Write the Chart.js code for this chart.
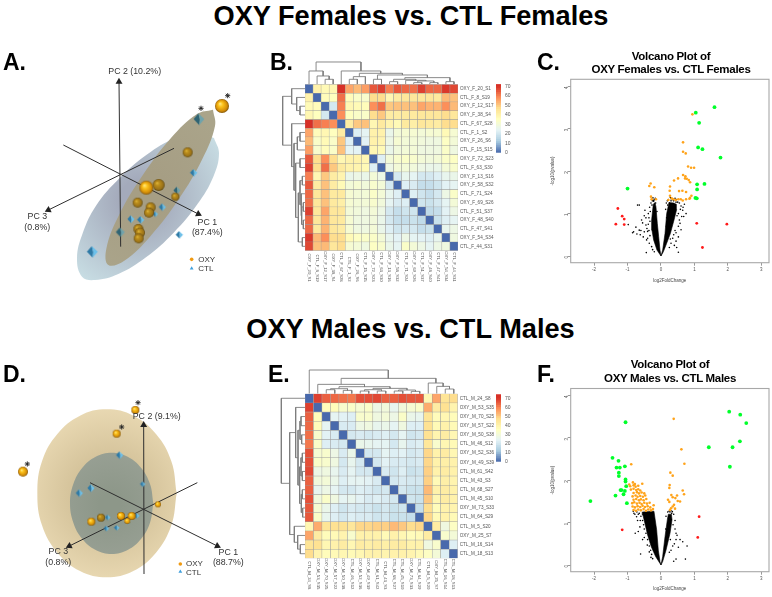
<!DOCTYPE html>
<html>
<head>
<meta charset="utf-8">
<title>OXY vs. CTL</title>
<script src="https://cdn.jsdelivr.net/npm/chart.js@4"></script>
<style>
html, body { margin: 0; padding: 0; background: #fff; }
#page { position: relative; width: 772px; height: 597px; overflow: hidden; font-family: "Liberation Sans", Arial, sans-serif; }
#page canvas { position: absolute; filter: blur(0.35px); }
#page div { position: absolute; white-space: nowrap; line-height: 1; color: #000; }
</style>
</head>
<body>
<div id="page"></div>
<script>
// heatmap labels, same order on both axes
var samplesF = ["OXY_F_20_S1", "CTL_F_8_S19", "OXY_F_12_S17", "OXY_F_38_S4", "CTL_F_67_S28", "CTL_F_1_S2", "OXY_F_26_S6", "CTL_F_15_S15", "OXY_F_72_S23", "CTL_F_63_S30", "OXY_F_13_S16", "OXY_F_58_S32", "CTL_F_71_S24", "OXY_F_69_S26", "CTL_F_51_S37", "OXY_F_48_S40", "CTL_F_47_S41", "OXY_F_54_S34", "CTL_F_44_S31"];
var samplesM = ["CTL_M_24_S8", "OXY_M_53_S35", "OXY_M_70_S25", "OXY_M_57_S22", "OXY_M_50_S38", "CTL_M_46_S12", "OXY_M_52_S36", "OXY_M_49_S39", "CTL_M_61_S42", "CTL_M_43_S3", "CTL_M_68_S27", "CTL_M_45_S10", "OXY_M_73_S33", "CTL_M_64_S29", "CTL_M_5_S20", "OXY_M_25_S7", "CTL_M_16_S14", "CTL_M_18_S13"];

// sample distances, upper triangle, each row starts on the diagonal
var distF = [
    [0, 40, 37, 38, 70, 55, 52, 56, 65, 68, 60, 65, 63, 62, 68, 63, 63, 69, 67],
    [0, 36, 35, 62, 36, 33, 32, 47, 47, 38, 42, 44, 44, 44, 44, 43, 52, 51],
    [0, 20, 60, 38, 37, 36, 58, 62, 50, 51, 51, 51, 55, 53, 53, 58, 52],
    [0, 58, 35, 33, 33, 47, 50, 42, 42, 43, 43, 44, 44, 44, 47, 44],
    [0, 42, 50, 51, 38, 43, 39, 37, 43, 41, 44, 43, 42, 47, 47],
    [0, 22, 24, 40, 40, 26, 30, 31, 31, 30, 31, 31, 37, 31],
    [0, 23, 40, 39, 27, 31, 30, 30, 29, 28, 28, 34, 30],
    [0, 38, 37, 26, 29, 30, 30, 28, 28, 28, 33, 28],
    [0, 22, 30, 32, 33, 32, 30, 29, 30, 33, 34],
    [0, 27, 30, 30, 29, 27, 26, 26, 30, 32],
    [0, 20, 25, 24, 20, 20, 22, 25, 26],
    [0, 22, 21, 17, 17, 19, 23, 24],
    [0, 22, 19, 17, 20, 27, 33],
    [0, 19, 18, 20, 24, 30],
    [0, 16, 17, 23, 27],
    [0, 18, 22, 24],
    [0, 25, 27],
    [0, 28],
    [0]
];
var distM = [
    [0, 68, 64, 63, 62, 61, 66, 66, 67, 64, 64, 66, 65, 65, 38, 55, 45, 47],
    [0, 36, 36, 32, 33, 31, 33, 27, 29, 25, 29, 31, 33, 54, 42, 46, 39],
    [0, 24, 23, 22, 32, 32, 28, 30, 27, 33, 26, 25, 45, 36, 38, 36],
    [0, 21, 21, 27, 28, 25, 26, 24, 28, 22, 22, 46, 37, 40, 37],
    [0, 20, 21, 20, 21, 22, 20, 24, 19, 20, 46, 39, 42, 38],
    [0, 26, 25, 24, 24, 20, 25, 21, 22, 44, 32, 38, 37],
    [0, 20, 20, 24, 22, 23, 20, 21, 48, 40, 42, 38],
    [0, 20, 23, 21, 21, 20, 21, 48, 40, 41, 40],
    [0, 21, 19, 22, 18, 19, 49, 40, 42, 40],
    [0, 20, 21, 20, 20, 49, 37, 41, 39],
    [0, 20, 18, 18, 52, 40, 42, 40],
    [0, 19, 18, 50, 38, 42, 40],
    [0, 17, 47, 36, 40, 39],
    [0, 48, 37, 40, 37],
    [0, 42, 28, 34],
    [0, 32, 30],
    [0, 22],
    [0]
];

// dendrogram merges: left position, left height, right position, right height, merge height
var mergesF = [
    [2, 0, 3, 0, 15], [1, 0, 2.5, 15, 25], [0, 0, 1.75, 25, 40],
    [5, 0, 6, 0, 15], [5.5, 15, 7, 0, 23], [8, 0, 9, 0, 15],
    [10, 0, 11, 0, 8], [13, 0, 14, 0, 5], [15, 0, 16, 0, 5],
    [13.5, 5, 15.5, 5, 10], [12, 0, 14.5, 10, 12], [10.5, 8, 13.25, 12, 15],
    [17, 0, 18, 0, 8], [11.9, 15, 17.5, 8, 20], [8.5, 15, 14.7, 20, 28],
    [6.25, 23, 11.6, 28, 33], [4, 0, 8.9, 33, 40], [0.875, 40, 6.45, 40, 67]
];
var mergesM = [
    [2, 0, 3, 0, 12], [4, 0, 5, 0, 10], [2.5, 12, 4.5, 10, 15],
    [6, 0, 7, 0, 8], [8, 0, 9, 0, 8], [10, 0, 11, 0, 8], [12, 0, 13, 0, 7],
    [6.5, 8, 8.5, 8, 12], [10.5, 8, 12.5, 7, 11], [7.5, 12, 11.5, 11, 16],
    [3.5, 15, 9.5, 16, 21], [1, 0, 6.5, 21, 28],
    [16, 0, 17, 0, 14], [15, 0, 16.5, 14, 22], [14, 0, 15.75, 22, 32],
    [3.75, 28, 14.9, 32, 46], [0, 0, 9.3, 46, 71]
];

var legendLevels = [1, 3, 5, 7, 9, 11, 13, 15, 17, 19, 21, 23, 25, 27, 29, 31, 33, 35, 37, 39, 41, 43, 45, 47, 49, 51, 53, 55, 57, 59, 61, 63, 65, 67, 69, 71, 73];
var legendTicks = [0, 10, 20, 30, 40, 50, 60, 70];
var foldTicks = [-2, -1, 0, 1, 2, 3];
var pvalueTicks = [0, 1, 2, 3, 4];

// volcano plots: [log2FoldChange, -log10(pvalue)]
var greenF = [[1.6, 3.51], [1.04, 3.38], [1.14, 3.14], [1.11, 2.56], [1.24, 2.52], [1.78, 2.32], [-1.0, 1.59], [1.08, 1.69], [1.3, 1.7], [1.08, 1.57], [1.03, 1.37], [1.07, 1.36]];
var redF = [[-1.29, 1.12], [-1.16, 0.94], [-1.1, 0.87], [-1.35, 0.75], [-1.1, 0.74], [1.07, 0.77], [1.97, 0.75], [1.24, 0.2]];
var orangeF = [[0.94, 3.34], [0.66, 2.68], [0.66, 2.46], [0.74, 2.42], [0.81, 2.11], [0.9, 2.08], [0.99, 2.08], [0.66, 1.91], [0.73, 1.88], [0.72, 1.83], [0.77, 1.82], [0.83, 1.79], [0.87, 1.74], [0.51, 1.83], [0.39, 1.78], [0.27, 1.64], [0.26, 1.54], [0.54, 1.53], [0.64, 1.54], [0.75, 1.51], [-0.31, 1.71], [-0.35, 1.65], [-0.2, 1.62], [-0.3, 1.4], [-0.28, 1.34], [-0.15, 1.34], [0.32, 1.36], [0.37, 1.34], [0.22, 1.32], [0.44, 1.32], [0.52, 1.34], [0.59, 1.34], [0.65, 1.31], [0.75, 1.34], [0.85, 1.35], [0.91, 1.42], [0.87, 1.37], [0.27, 1.42]];
var coreLeftF = [[0, 0], [-0.12, 0.14], [-0.22, 0.38], [-0.27, 0.61], [-0.28, 0.85], [-0.25, 1.08], [-0.23, 1.22], [-0.18, 1.26], [-0.15, 1.16], [-0.11, 0.77], [-0.07, 0.46], [-0.03, 0.14], [0, 0]];
var coreRightF = [[0, 0], [0.07, 0.1], [0.17, 0.3], [0.28, 0.53], [0.39, 0.85], [0.47, 1.1], [0.46, 1.22], [0.38, 1.25], [0.24, 1.26], [0.17, 1.0], [0.12, 0.53], [0.05, 0.14], [0, 0]];
var blackF = [[-0.98, 0.74], [-0.44, 0.08], [-0.85, 0.55], [-0.82, 0.57], [-0.75, 0.68], [-0.65, 1.2], [-0.7, 1.2], [-0.5, 0.95], [-0.55, 0.78], [-0.6, 0.6], [-0.45, 0.73], [-0.5, 0.57], [-0.4, 0.42], [-0.35, 0.3], [-0.58, 0.85], [-0.48, 1.08], [-0.38, 1.0], [-0.65, 0.61], [-0.53, 0.45], [-0.43, 0.38], [-0.28, 0.22], [-0.36, 0.9], [-0.34, 1.15], [-0.3, 1.25], [-0.27, 1.2], [-0.38, 0.75], [-0.36, 0.6], [-0.33, 0.48], [-0.4, 0.58], [-0.72, 0.52], [-0.62, 0.5], [-0.25, 0.15], [-0.2, 0.1], [-0.33, 0.82], [-0.32, 1.05], [-0.45, 0.9], [-0.42, 0.65], [-0.22, 1.29], [-0.16, 1.25], [-0.12, 1.05], [-0.26, 1.3], [-0.2, 1.33], [-0.24, 1.37], [-0.17, 1.36], [-0.22, 1.31],
    [0.52, 0.09], [0.47, 0.2], [0.4, 0.25], [0.45, 0.35], [0.52, 0.45], [0.6, 0.62], [0.57, 0.77], [0.68, 0.93], [0.75, 1.0], [0.65, 1.08], [0.62, 0.93], [0.52, 0.7], [0.45, 0.55], [0.35, 0.42], [0.3, 0.3], [0.25, 0.2], [0.6, 1.18], [0.55, 1.25], [0.7, 1.22], [0.45, 1.27], [0.38, 1.3], [0.3, 1.3], [0.25, 1.25], [0.2, 1.2], [0.17, 0.9], [0.16, 0.7], [0.52, 1.0], [0.42, 0.6], [0.38, 0.5], [0.28, 0.4], [0.55, 0.85], [0.58, 1.1], [0.48, 0.95], [0.14, 1.1], [0.66, 1.15], [0.12, 0.3], [0.09, 0.2], [0.22, 1.33], [0.3, 1.35], [0.35, 1.33], [0.42, 1.36], [0.47, 1.33], [0.5, 1.27], [0.28, 1.38], [0.16, 1.25], [0.19, 1.3]];

var greenM = [[2.04, 3.62], [2.37, 3.55], [2.55, 3.35], [2.36, 2.92], [2.14, 2.78], [1.43, 2.78], [2.06, 2.32], [-1.06, 3.37], [-1.45, 2.53], [-1.27, 2.46], [-1.33, 2.3], [-1.23, 2.3], [-1.08, 2.33], [-1.26, 2.18], [-1.26, 2.1], [-1.06, 2.02], [-1.06, 1.97], [-1.04, 1.86], [-1.21, 1.77], [-1.18, 1.77], [-1.08, 1.75], [-1.12, 1.67], [-1.36, 1.64], [-1.02, 1.46], [-2.11, 1.51]];
var redM = [[1.14, 1.14], [1.1, 0.65], [-1.16, 0.83]];
var orangeM = [[0.38, 3.45], [0.61, 2.73], [0.7, 2.39], [-0.89, 2.38], [0.28, 2.18], [0.35, 2.11], [0.26, 1.89], [0.25, 1.82], [0.65, 1.76], [0.69, 1.67], [0.31, 1.65], [0.48, 1.64], [0.35, 1.6], [0.43, 1.58], [0.21, 1.54], [0.25, 1.49], [0.57, 1.5], [0.5, 1.51], [0.39, 1.42], [0.35, 1.38], [0.3, 1.34], [0.27, 1.3], [0.42, 1.33],
    [-0.82, 1.3], [-0.75, 1.28], [-0.68, 1.31], [-0.6, 1.29], [-0.52, 1.32], [-0.45, 1.28], [-0.38, 1.31], [-0.3, 1.29], [-0.24, 1.32], [-0.85, 1.38], [-0.78, 1.36], [-0.7, 1.39], [-0.62, 1.37], [-0.55, 1.4], [-0.48, 1.37], [-0.4, 1.39], [-0.32, 1.36], [-0.22, 1.41], [-0.86, 1.46], [-0.8, 1.48], [-0.72, 1.45], [-0.64, 1.47], [-0.58, 1.44], [-0.5, 1.47], [-0.42, 1.45], [-0.34, 1.47], [-0.82, 1.54], [-0.74, 1.56], [-0.66, 1.53], [-0.6, 1.55], [-0.52, 1.53], [-0.44, 1.56], [-0.85, 1.62], [-0.76, 1.64], [-0.7, 1.61], [-0.62, 1.63], [-0.54, 1.61], [-0.47, 1.64], [-0.82, 1.7], [-0.72, 1.72], [-0.66, 1.69], [-0.58, 1.71], [-0.5, 1.69], [-0.9, 1.78], [-0.82, 1.8], [-0.74, 1.77], [-0.68, 1.79], [-0.62, 1.76], [-0.92, 1.86], [-0.82, 1.88], [-0.76, 1.85], [-0.68, 1.87], [-0.56, 1.92], [-0.95, 1.9], [-0.84, 1.95], [-0.78, 1.91]];
var coreLeftM = [[0, 0], [-0.16, 0.2], [-0.29, 0.43], [-0.4, 0.71], [-0.48, 0.98], [-0.54, 1.18], [-0.56, 1.25], [-0.21, 1.27], [-0.13, 0.83], [-0.08, 0.35], [-0.03, 0.08], [0, 0]];
var coreRightM = [[0, 0], [0.05, 0.08], [0.15, 0.35], [0.27, 0.75], [0.33, 1.07], [0.31, 1.2], [0.22, 1.2], [0.19, 1.07], [0.12, 0.67], [0.05, 0.2], [0, 0]];
var blackM = [[-0.61, 0.26], [-0.41, 0.47], [-0.35, 0.31], [-0.31, 0.35], [-0.77, 0.75], [-0.68, 0.79], [-0.63, 0.9], [-0.73, 1.14], [-0.81, 1.22], [-0.83, 1.27], [-0.65, 1.22], [-0.6, 1.15], [-0.55, 1.05], [-0.5, 0.85], [-0.45, 0.75], [-0.4, 0.6], [-0.55, 0.6], [-0.5, 0.65], [-0.35, 0.45], [-0.28, 0.25], [-0.7, 1.05], [-0.62, 1.05], [-0.78, 1.2], [-0.72, 1.25], [-0.68, 1.2], [-0.52, 0.95], [-0.42, 0.9], [-0.3, 0.18], [-0.25, 0.15],
    [0.38, 0.09], [0.45, 0.14], [0.73, 0.14], [0.52, 0.42], [0.65, 0.55], [0.78, 0.45], [0.45, 0.6], [0.57, 0.6], [0.4, 0.5], [0.35, 0.45], [0.3, 0.35], [0.25, 0.3], [0.42, 0.85], [0.45, 0.75], [0.42, 1.05], [0.38, 1.2], [0.32, 1.22], [0.27, 1.25], [0.2, 1.25], [0.14, 0.85], [0.15, 1.15], [0.36, 0.95], [0.48, 0.7], [0.28, 0.6], [0.24, 1.27], [0.3, 1.28], [0.34, 1.26]];

// PCA panels, plot units: outlines, axes as [x0, y0, x1, y1]
var outerA = [[642, 264], [657, 310], [640, 380], [592, 463], [521, 548], [438, 622], [355, 672], [285, 690], [246, 680], [231, 625], [248, 550], [288, 467], [359, 384], [442, 313], [525, 265], [595, 248], [642, 264]];
var innerA = [[639, 179], [645, 228], [607, 327], [536, 448], [450, 560], [373, 632], [325, 645], [319, 596], [356, 497], [428, 376], [513, 264], [591, 192], [639, 179]];
var axesA = [[362, 590, 357, 95], [190, 285, 595, 492], [522, 295, 145, 480]];
var oxyA = [[666, 168], [563, 307], [439, 413], [476, 405], [526, 440], [413, 458], [452, 472], [447, 488], [415, 537], [420, 548], [416, 565]];
var oxyASize = [20, 16, 21, 17, 13, 15, 15, 15, 15, 14, 14];
var oxyADim = [0, 1, 0, 1, 1, 1, 1, 1, 1, 1, 1];
var ctlA = [[597, 208], [581, 369], [531, 422], [487, 472], [466, 493], [393, 508], [422, 510], [361, 547], [538, 555], [277, 606]];
var ctlASize = [17, 12, 12, 13, 10, 12, 12, 14, 11, 17];
var ctlADim = [1, 0, 1, 0, 0, 0, 0, 1, 0, 0];
var starsA = [[603, 175], [683, 137]];
var keyOxyA = [[575, 628]];
var keyCtlA = [[575, 655]];

var outerD = [[530, 430], [514, 526], [468, 608], [400, 663], [320, 682], [240, 663], [172, 608], [126, 526], [112, 430], [126, 334], [172, 252], [240, 197], [320, 178], [400, 197], [468, 252], [514, 334], [530, 430]];
var innerD = [[460, 460], [450, 518], [423, 567], [383, 600], [335, 612], [287, 600], [247, 567], [220, 518], [210, 460], [220, 402], [247, 353], [287, 320], [335, 308], [383, 320], [423, 353], [450, 402], [460, 460]];
var axesD = [[432, 672, 431, 225], [270, 398, 652, 588], [592, 398, 208, 588]];
var oxyD = [[406, 180], [350, 251], [69, 365], [474, 463], [274, 515], [303, 503], [363, 498], [395, 498], [382, 513]];
var oxyDSize = [12, 12, 15, 10, 13, 12, 12, 12, 10];
var oxyDDim = [0, 0, 0, 0, 0, 1, 0, 0, 0];
var ctlD = [[359, 316], [428, 403], [273, 415], [238, 430], [323, 503], [319, 536], [350, 534], [362, 496], [410, 498], [384, 515]];
var ctlDSize = [11, 10, 11, 11, 10, 10, 10, 10, 10, 9];
var ctlDDim = [0, 0, 0, 0, 0, 0, 0, 0, 0, 0];
var starsD = [[414, 158], [365, 231], [82, 342]];
var keyOxyD = [[541, 642]];
var keyCtlD = [[541, 665]];

var heatStops = [[0, [72, 105, 172]], [11.7, [170, 205, 225]], [23.3, [228, 243, 246]], [35, [255, 255, 191]], [46.7, [254, 224, 144]], [58.3, [252, 141, 89]], [70, [215, 48, 39]]];
var page = document.getElementById("page");

Chart.defaults.font.family = '"Liberation Sans", Arial, sans-serif';
Chart.defaults.animation = false;
Chart.defaults.responsive = false;
Chart.defaults.plugins.legend.display = false;
Chart.defaults.plugins.tooltip.enabled = false;

function heatColor(v) {
    var i = 0;
    while (i < heatStops.length - 2 && v > heatStops[i + 1][0]) {
        i++;
    }
    var a = heatStops[i], b = heatStops[i + 1];
    var t = Math.min(1, Math.max(0, (v - a[0]) / (b[0] - a[0])));
    var rgb = a[1].map((c, k) => Math.round(c + (b[1][k] - c) * t));
    return "rgb(" + rgb.join(",") + ")";
}

function xy(pairs) {
    return pairs.map((p) => ({x: p[0], y: p[1]}));
}

function addCanvas(left, top, width, height) {
    var canvas = document.createElement("canvas");
    canvas.width = width;
    canvas.height = height;
    canvas.style.left = left + "px";
    canvas.style.top = top + "px";
    page.appendChild(canvas);
    return canvas;
}

// x is left edge or centre, baseline is the text baseline
function addText(text, x, baseline, size, opts) {
    opts = opts || {};
    var div = document.createElement("div");
    div.textContent = text;
    div.style.left = x + "px";
    div.style.top = (baseline - 0.8465 * size) + "px";
    div.style.fontSize = size + "px";
    if (opts.bold) {
        div.style.fontWeight = "bold";
    }
    if (opts.center) {
        div.style.transform = "translateX(-50%)";
    }
    if (opts.color) {
        div.style.color = opts.color;
    }
    if (opts.spacing) {
        div.style.letterSpacing = opts.spacing + "px";
    }
    page.appendChild(div);
}

function hiddenScale(min, max, reverse) {
    return {type: "linear", display: false, min: min, max: max, reverse: !!reverse};
}

// rotated tick labels would otherwise pull the plot area in
function clearPadding(scale) {
    scale.paddingLeft = 0;
    scale.paddingRight = 0;
    scale.paddingTop = 0;
    scale.paddingBottom = 0;
}

function createHeatmap(samples, dist, left, top, width, height, padding, axisWidth, axisHeight) {
    var n = samples.length;
    var datasets = samples.map((name, row) => ({
        label: name,
        data: samples.map(() => 1),
        backgroundColor: samples.map((_, col) => {
            var a = Math.min(row, col), b = Math.max(row, col);
            return heatColor(dist[a][b - a]);
        }),
        borderColor: "#9c9c9c",
        borderWidth: 0.5,
        borderSkipped: false,
        barPercentage: 1,
        categoryPercentage: 1,
    }));
    return new Chart(addCanvas(left, top, width, height), {
        type: "bar",
        data: {labels: samples, datasets: datasets},
        options: {
            layout: {padding: padding, autoPadding: false},
            scales: {
                x: {
                    stacked: true,
                    grid: {display: false, drawTicks: false},
                    border: {display: false},
                    afterFit: function(scale) {
                        scale.height = axisHeight;
                        clearPadding(scale);
                    },
                    ticks: {
                        autoSkip: false, minRotation: 270, maxRotation: 270, padding: 31,
                        color: "#555", font: {size: 4.2},
                    },
                },
                y: {
                    stacked: true,
                    position: "right",
                    reverse: true,
                    min: 0,
                    max: n,
                    grid: {display: false, drawTicks: false},
                    border: {display: false},
                    afterFit: function(scale) {
                        scale.width = axisWidth;
                        clearPadding(scale);
                    },
                    afterBuildTicks: function(scale) {
                        scale.ticks = samples.map((_, i) => ({value: i + 0.5}));
                    },
                    ticks: {
                        autoSkip: false, padding: 2, color: "#555", font: {size: 4.6},
                        callback: function(value) { return samples[value - 0.5]; },
                    },
                },
            },
        },
    });
}

function mergeLines(merges, flip) {
    return merges.map((m) => {
        var pts = [[m[0], m[1]], [m[0], m[4]], [m[2], m[4]], [m[2], m[3]]];
        return {
            data: pts.map((p) => flip ? {x: p[1], y: p[0]} : {x: p[0], y: p[1]}),
            showLine: true,
            pointRadius: 0,
            borderColor: "#7d7d7d",
            borderWidth: 0.9,
        };
    });
}

function createDendrogram(merges, n, flip, left, top, width, height, padding, heightMax) {
    var scales = flip ?
        {x: hiddenScale(0, heightMax, true), y: hiddenScale(-0.5, n - 0.5, true)} :
        {x: hiddenScale(-0.5, n - 0.5), y: hiddenScale(0, heightMax)};
    return new Chart(addCanvas(left, top, width, height), {
        type: "scatter",
        data: {datasets: mergeLines(merges, flip)},
        options: {layout: {padding: padding, autoPadding: false}, scales: scales},
    });
}

function createColorBar(left, top, width, height, padding, axisMax) {
    var datasets = legendLevels.map((v) => ({
        data: [2],
        backgroundColor: heatColor(v),
        barPercentage: 1,
        categoryPercentage: 1,
        inflateAmount: 0.4,
    }));
    return new Chart(addCanvas(left, top, width, height), {
        type: "bar",
        data: {labels: [""], datasets: datasets},
        options: {
            layout: {padding: padding, autoPadding: false},
            scales: {
                x: {stacked: true, display: false},
                y: {
                    stacked: true,
                    position: "right",
                    min: 0,
                    max: axisMax,
                    grid: {display: false, drawTicks: false},
                    border: {display: false},
                    afterFit: function(scale) {
                        scale.width = width - 11;
                        clearPadding(scale);
                    },
                    afterBuildTicks: function(scale) {
                        scale.ticks = legendTicks.map((v) => ({value: v}));
                    },
                    ticks: {padding: 4, color: "#555", font: {size: 5}},
                },
            },
        },
    });
}

var framePlugin = {
    id: "frame",
    afterDraw: function(chart) {
        var a = chart.chartArea, ctx = chart.ctx;
        ctx.save();
        ctx.strokeStyle = "#a8a8a8";
        ctx.lineWidth = 1.1;
        ctx.strokeRect(a.left, a.top, a.right - a.left, a.bottom - a.top);
        ctx.restore();
    },
};

function cloud(pairs, color) {
    return {
        data: xy(pairs), showLine: true, fill: "shape", backgroundColor: color,
        borderColor: color, borderWidth: 0.6, pointRadius: 0, order: 5,
    };
}

function dots(pairs, color, radius, order) {
    return {
        data: xy(pairs), pointRadius: radius, pointBackgroundColor: color,
        pointBorderWidth: 0, order: order,
    };
}

function createVolcano(left, top, height, padTop, axisHeight, core, black, orange, red, green) {
    return new Chart(addCanvas(left, top, 772 - left, height), {
        type: "scatter",
        data: {
            datasets: [
                cloud(core[0], "#000"),
                cloud(core[1], "#000"),
                dots(black, "#000", 0.8, 4),
                dots(orange, "#ffa31a", 1.3, 3),
                dots(red, "#ff1a1a", 1.4, 2),
                dots(green, "#00ff2a", 1.9, 1),
            ],
        },
        options: {
            layout: {padding: {top: padTop, right: 3}, autoPadding: false},
            scales: {
                x: {
                    min: -2.7,
                    max: 3.23,
                    grid: {drawOnChartArea: false, tickLength: 3, color: "#999"},
                    border: {display: false},
                    afterFit: function(scale) {
                        scale.height = axisHeight;
                        clearPadding(scale);
                    },
                    afterBuildTicks: function(scale) {
                        scale.ticks = foldTicks.map((v) => ({value: v}));
                    },
                    ticks: {padding: 1, color: "#555", font: {size: 4.5}, maxRotation: 0},
                    title: {display: true, text: "log2FoldChange", color: "#444", font: {size: 4.5}, padding: 0},
                },
                y: {
                    min: -0.158,
                    max: 4.167,
                    grid: {drawOnChartArea: false, tickLength: 3, color: "#999"},
                    border: {display: false},
                    afterFit: function(scale) {
                        scale.width = 570.7 - left;
                        clearPadding(scale);
                    },
                    afterBuildTicks: function(scale) {
                        scale.ticks = pvalueTicks.map((v) => ({value: v}));
                    },
                    ticks: {padding: 1, color: "#555", font: {size: 4.5}, minRotation: 90, maxRotation: 90},
                    title: {display: true, text: "-log10(pvalue)", color: "#444", font: {size: 4.5}, padding: 0},
                },
            },
        },
        plugins: [framePlugin],
    });
}

// sphere and pyramid glyphs used as point styles
var glyphCache = {};
function sphereGlyph(r, dim) {
    var key = "s" + r + dim;
    if (glyphCache[key]) {
        return glyphCache[key];
    }
    var c = document.createElement("canvas");
    c.width = c.height = 2 * r + 2;
    var ctx = c.getContext("2d");
    var g = ctx.createRadialGradient(r + 1 - 0.3 * r, r + 1 - 0.35 * r, 0, r + 1, r + 1, r);
    var colors = dim ? ["#e0b83c", "#bb8d1c", "#9a7218", "#5f4810"] : ["#ffec8c", "#fcc21b", "#d38c08", "#80560a"];
    g.addColorStop(0, colors[0]);
    g.addColorStop(0.35, colors[1]);
    g.addColorStop(0.8, colors[2]);
    g.addColorStop(1, colors[3]);
    ctx.fillStyle = g;
    ctx.beginPath();
    ctx.arc(r + 1, r + 1, r, 0, 2 * Math.PI);
    ctx.fill();
    glyphCache[key] = c;
    return c;
}

function pyramidGlyph(r, dim) {
    var key = "p" + r + dim;
    if (glyphCache[key]) {
        return glyphCache[key];
    }
    var c = document.createElement("canvas");
    c.width = c.height = 2 * r + 2;
    var ctx = c.getContext("2d");
    var m = r + 1;
    function face(color, pts) {
        ctx.fillStyle = color;
        ctx.beginPath();
        pts.forEach((p, i) => i ? ctx.lineTo(m + p[0] * r, m + p[1] * r) : ctx.moveTo(m + p[0] * r, m + p[1] * r));
        ctx.fill();
    }
    face(dim ? "#2f6474" : "#2e7aa6", [[-0.1, -1], [-0.9, -0.05], [0.05, 0.95], [0.15, 0]]);
    face(dim ? "#6fa3ac" : "#6cc0ea", [[-0.1, -1], [0.9, -0.05], [0.05, 0.95], [0.15, 0]]);
    glyphCache[key] = c;
    return c;
}

function ellipseFill(canvas, cx, cy, r, inner, outer) {
    var g = canvas.getContext("2d").createRadialGradient(cx, cy, r * 0.2, cx, cy, r);
    g.addColorStop(0, inner);
    g.addColorStop(1, outer);
    return g;
}

function createPca(top, d) {
    var canvas = addCanvas(0, top, 260, 240);
    var axisLines = d.axes.map((a) => ({
        data: xy([[a[0], a[1]], [a[2], a[3]]]),
        showLine: true, borderColor: "#2e2e2e", borderWidth: 1, pointRadius: 0, order: 6,
    }));
    var tips = d.axes.map((a) => [a[2], a[3]]);
    var turn = d.axes.map((a) => Math.atan2(a[2] - a[0], a[1] - a[3]) * 180 / Math.PI);
    var shape = (pts, color, order) => ({
        data: xy(pts), showLine: true, fill: "shape", tension: 0.4, backgroundColor: color,
        borderWidth: 0, pointRadius: 0, order: order,
    });
    return new Chart(canvas, {
        type: "scatter",
        data: {
            datasets: [
                shape(d.outer, ellipseFill(canvas, d.outerFill[0], d.outerFill[1], d.outerFill[2], d.outerFill[3], d.outerFill[4]), 9),
                shape(d.inner, ellipseFill(canvas, d.innerFill[0], d.innerFill[1], d.innerFill[2], d.innerFill[3], d.innerFill[4]), 8),
            ].concat(axisLines).concat([
                {
                    data: xy(tips), pointStyle: "triangle", pointRadius: 4,
                    pointRotation: turn, pointBackgroundColor: "#222", pointBorderWidth: 0, order: 5,
                },
                {
                    data: xy(d.ctl),
                    pointStyle: (c) => pyramidGlyph(Math.round(d.ctlSize[c.dataIndex] / 3), d.ctlDim[c.dataIndex]),
                    order: 4,
                },
                {
                    data: xy(d.oxy),
                    pointStyle: (c) => sphereGlyph(Math.round(d.oxySize[c.dataIndex] / 3), d.oxyDim[c.dataIndex]),
                    order: 3,
                },
                {data: xy(d.stars), pointStyle: "star", pointRadius: 2.6, pointBorderColor: "#222", pointBorderWidth: 0.9, order: 2},
                {data: xy(d.keyOxy), pointStyle: "circle", pointRadius: 1.8, pointBackgroundColor: "#f09a12", pointBorderWidth: 0, order: 1},
                {data: xy(d.keyCtl), pointStyle: "triangle", pointRadius: 2.2, pointBackgroundColor: "#3f9fdc", pointBorderWidth: 0, order: 1},
            ]),
        },
        options: {
            layout: {autoPadding: false},
            scales: {x: hiddenScale(0, 780), y: hiddenScale(0, 720, true)},
        },
    });
}

function addLabels() {
    var titleOpts = {bold: true, center: true};
    addText("OXY Females vs. CTL Females", 411, 25, 27.2, titleOpts);
    addText("OXY Males vs. CTL Males", 410.5, 338.3, 27.2, titleOpts);
    [["A.", 3, 70], ["B.", 270, 70], ["C.", 537, 70], ["D.", 3, 382], ["E.", 268, 382], ["F.", 537, 382]].forEach((p) => {
        addText(p[0], p[1], p[2], 23, {bold: true});
    });
    var sub = {bold: true, center: true, spacing: -0.3};
    addText("Volcano Plot of", 671, 61, 11.5, sub);
    addText("OXY Females vs. CTL Females", 671, 74, 11.5, sub);
    addText("Volcano Plot of", 670, 369, 11.5, sub);
    addText("OXY Males vs. CTL Males", 670, 383, 11.5, sub);

    var pc = {center: true, color: "#333"};
    addText("PC 2 (10.2%)", 134.7, 74, 8.8, pc);
    addText("PC 1", 207.3, 225, 8.8, pc);
    addText("(87.4%)", 207.3, 235.5, 8.8, pc);
    addText("PC 3", 37.3, 219, 8.8, pc);
    addText("(0.8%)", 37.3, 230, 8.8, pc);
    addText("OXY", 198.3, 262.7, 8, {color: "#333"});
    addText("CTL", 198.3, 271.5, 8, {color: "#333"});
    addText("PC 2 (9.1%)", 156.7, 419.3, 8.8, pc);
    addText("PC 1", 228.3, 555, 8.8, pc);
    addText("(88.7%)", 228.3, 565.5, 8.8, pc);
    addText("PC 3", 58.3, 554.3, 8.8, pc);
    addText("(0.8%)", 58.3, 565.5, 8.8, pc);
    addText("OXY", 186, 566.7, 8, {color: "#333"});
    addText("CTL", 186, 575.3, 8, {color: "#333"});
}

window.addEventListener("load", function() {
    createPca(50, {
        outer: outerA, inner: innerA, axes: axesA,
        oxy: oxyA, oxySize: oxyASize, oxyDim: oxyADim,
        ctl: ctlA, ctlSize: ctlASize, ctlDim: ctlADim,
        stars: starsA, keyOxy: keyOxyA, keyCtl: keyCtlA,
        outerFill: [140, 150, 100, "#a4aabb", "#c9dfe5"],
        innerFill: [150, 140, 90, "#a69e84", "#aaa48a"],
    });
    createPca(350, {
        outer: outerD, inner: innerD, axes: axesD,
        oxy: oxyD, oxySize: oxyDSize, oxyDim: oxyDDim,
        ctl: ctlD, ctlSize: ctlDSize, ctlDim: ctlDDim,
        stars: starsD, keyOxy: keyOxyD, keyCtl: keyCtlD,
        outerFill: [110, 145, 95, "#cdbb92", "#ecdcb6"],
        innerFill: [110, 155, 55, "#8d9789", "#98a094"],
    });

    createDendrogram(mergesF, 19, false, 305, 50, 153, 35, {top: 1, bottom: 0.7}, 100);
    createDendrogram(mergesF, 19, true, 270, 80, 35, 176, {top: 4.3, bottom: 5.3}, 105);
    createHeatmap(samplesF, distF, 300, 80, 200, 220, {left: 5, top: 4.3}, 42, 49.3);
    createColorBar(490, 80, 30, 78, {left: 6, top: 4.3, bottom: 5.3}, 72.5);

    createDendrogram(mergesM, 18, false, 305, 360, 153, 34, {bottom: 0.3}, 101);
    createDendrogram(mergesM, 18, true, 270, 390, 35, 172, {top: 3.7, bottom: 3.7}, 105);
    createHeatmap(samplesM, distM, 300, 390, 200, 207, {left: 5, top: 3.7}, 42.3, 38.7);
    createColorBar(490, 390, 30, 76, {left: 6, top: 3.7, bottom: 4.3}, 75);

    createVolcano(550, 75, 208, 4.3, 20.3, [coreLeftF, coreRightF], blackF, orangeF, redF, greenF);
    createVolcano(550, 380, 211, 8.5, 19.3, [coreLeftM, coreRightM], blackM, orangeM, redM, greenM);

    addLabels();
});
</script>
</body>
</html>
